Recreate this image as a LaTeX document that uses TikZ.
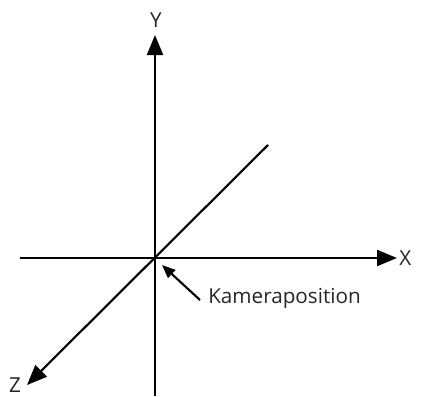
\documentclass[tikz,border=0pt]{standalone}
\usepackage{fontspec}
\setmainfont{Open Sans}
\usetikzlibrary{arrows.meta}
\begin{document}
\begin{tikzpicture}[x=0.75pt,y=-0.75pt,
  axis/.style={line width=1.6pt,-{Triangle[length=15pt,width=12pt]}},
  lbl/.style={font=\fontsize{15.5}{18}\selectfont,text=black!85,inner sep=0pt}]
\useasboundingbox (0,0) rectangle (423,396);
\coordinate (o) at (155,258);
\coordinate (ybot) at (155,396);
\coordinate (ytop) at (155,35);
\coordinate (xl) at (20,258);
\coordinate (xr) at (397,258);
\coordinate (zt) at (268,145);
\coordinate (zb) at (27,385);
\coordinate (ks) at (200,300);
\coordinate (kt) at (162,265);
\draw[axis] (ybot) -- (ytop);
\draw[axis] (xl) -- (xr);
\draw[axis] (zt) -- (zb);
\draw[line width=1.6pt,-{Triangle[length=10pt,width=8pt]}] (ks) -- (kt);
\node[lbl] (Y) at (156,20) {Y};
\node[lbl,anchor=west] (X) at (399,258) {X};
\node[lbl,anchor=base] (Z) at (15,392) {Z};
\node[lbl,anchor=west] (K) at (208,298) {Kameraposition};
\end{tikzpicture}
\end{document}
